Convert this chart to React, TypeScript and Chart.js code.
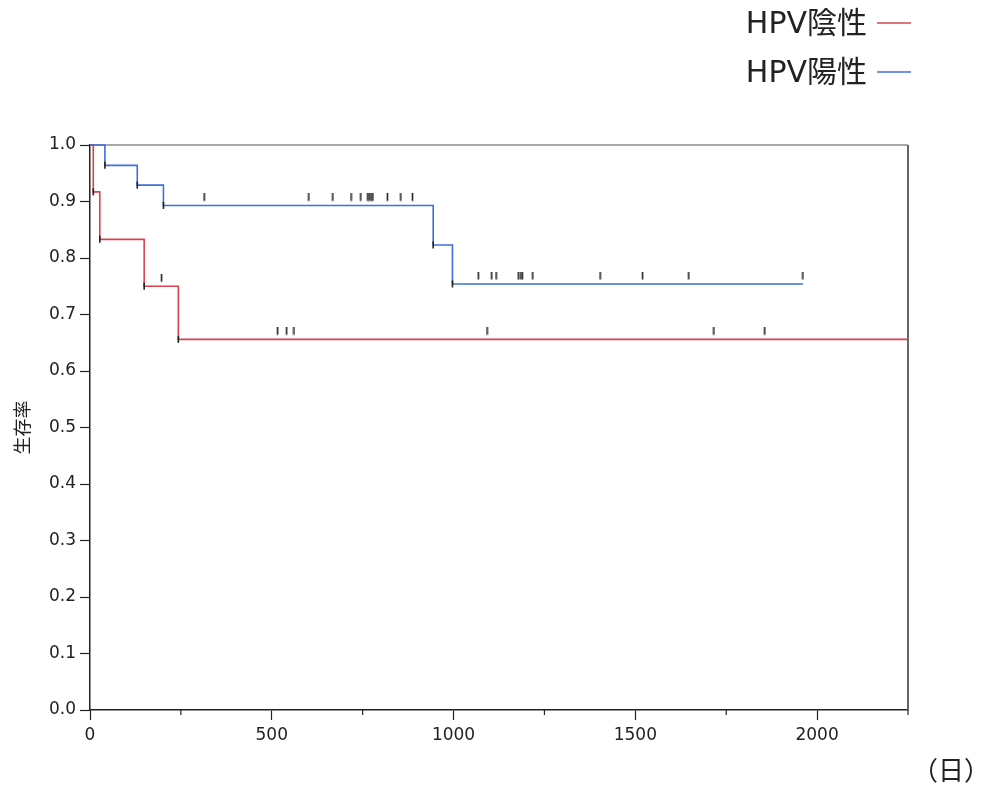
import React, { useEffect, useRef } from 'react';
import { Chart, registerables } from 'chart.js';

Chart.register(...registerables);

// ---- data ----
const seriesNames = ['HPV陰性', 'HPV陽性'];
const seriesColors = ['#d9434f', '#3f6fd8'];

const redEventDays = [9, 27, 149, 243];
const redSurvival = [0.917, 0.833, 0.75, 0.656];
const redCensorDays = [197, 516, 541, 561, 1092, 1716, 1856];
const redEndDay = 2250;

const blueEventDays = [41, 130, 202, 944, 997];
const blueSurvival = [0.964, 0.929, 0.893, 0.823, 0.754];
const blueCensorDays = [
  314, 602, 668, 718, 745, 764, 768, 773, 778, 818, 855, 887,
  1068, 1105, 1117, 1178, 1185, 1189, 1218, 1403, 1520, 1647, 1961,
];
const blueEndDay = 1961;

const xMax = 2250;
const xMajorTicks = [0, 500, 1000, 1500, 2000];
const xMinorTicks = [250, 750, 1250, 1750, 2250];
const yTitle = '生存率';
const xUnit = '（日）';

function levelAt(days: number[], surv: number[], t: number) {
  let s = 1;
  for (let i = 0; i < days.length; i++) if (days[i] <= t) s = surv[i];
  return s;
}
function stepPoints(days: number[], surv: number[], end: number) {
  const pts = [{ x: 0, y: 1 }];
  days.forEach((d, i) => pts.push({ x: d, y: surv[i] }));
  pts.push({ x: end, y: surv[surv.length - 1] });
  return pts;
}
function eventPoints(days: number[], surv: number[]) {
  return days.map((d, i) => ({ x: d, y: surv[i] }));
}
function censorPoints(censor: number[], days: number[], surv: number[]) {
  return censor.map((c) => ({ x: c, y: levelAt(days, surv, c) }));
}

const CJK = '"DejaVu Sans", "Noto Sans CJK JP", sans-serif';

const decor = {
  id: 'decor',
  beforeDatasetsDraw(chart: any) {
    const { ctx, chartArea: a, scales } = chart;
    ctx.save();
    ctx.strokeStyle = '#8c8c8c';
    ctx.lineWidth = 1.5;
    ctx.beginPath();
    ctx.moveTo(a.left, a.top);
    ctx.lineTo(a.right, a.top);
    ctx.stroke();
    ctx.strokeStyle = '#666';
    ctx.lineWidth = 2;
    ctx.beginPath();
    ctx.moveTo(a.right, a.top);
    ctx.lineTo(a.right, a.bottom);
    ctx.stroke();
    ctx.strokeStyle = '#222';
    ctx.lineWidth = 1.2;
    xMinorTicks.forEach((v) => {
      const px = scales.x.getPixelForValue(v);
      ctx.beginPath();
      ctx.moveTo(px, a.bottom);
      ctx.lineTo(px, a.bottom + 5);
      ctx.stroke();
    });
    ctx.restore();
  },
  afterDraw(chart: any) {
    const { ctx, chartArea: a, width, height } = chart;
    ctx.save();
    // legend
    ctx.font = `30px ${CJK}`;
    ctx.textAlign = 'right';
    ctx.textBaseline = 'middle';
    seriesNames.forEach((name, i) => {
      const y = 25 + i * 49;
      ctx.fillStyle = '#222';
      ctx.fillText(name, width - 118, y);
      ctx.strokeStyle = seriesColors[i];
      ctx.lineWidth = 1.6;
      ctx.beginPath();
      ctx.moveTo(width - 108, y - 2);
      ctx.lineTo(width - 74, y - 2);
      ctx.stroke();
    });
    // y title
    ctx.save();
    ctx.translate(22, (a.top + a.bottom) / 2);
    ctx.rotate(-Math.PI / 2);
    ctx.font = '18px "Noto Sans CJK JP", sans-serif';
    ctx.textAlign = 'center';
    ctx.textBaseline = 'middle';
    ctx.fillStyle = '#222';
    ctx.fillText(yTitle, 0, 0);
    ctx.restore();
    // unit
    ctx.font = '26px "Noto Sans CJK JP", sans-serif';
    ctx.textAlign = 'center';
    ctx.textBaseline = 'middle';
    ctx.fillStyle = '#222';
    ctx.fillText(xUnit, width - 34, height - 17);
    ctx.restore();
  },
};

export default function App() {
  const ref = useRef<HTMLCanvasElement>(null);
  useEffect(() => {
    if (!ref.current) return;
    const censorImg = document.createElement('canvas');
    censorImg.width = 3;
    censorImg.height = 24;
    const cc = censorImg.getContext('2d')!;
    cc.strokeStyle = '#222';
    cc.lineWidth = 1.6;
    cc.beginPath();
    cc.moveTo(1.5, 0);
    cc.lineTo(1.5, 7.5);
    cc.stroke();

    const markerCommon = {
      showLine: false,
      pointStyle: 'line',
      rotation: 90,
      pointRadius: 3.5,
      pointBorderWidth: 1.6,
      pointBorderColor: '#222',
      pointBackgroundColor: '#222',
      clip: false,
      order: 0,
    };
    const censorCommon = {
      showLine: false,
      pointStyle: censorImg,
      pointRadius: 5,
      clip: false,
      order: 0,
    };

    const chart = new Chart(ref.current, {
      type: 'scatter',
      data: {
        datasets: [
          {
            label: seriesNames[0],
            data: stepPoints(redEventDays, redSurvival, redEndDay),
            showLine: true,
            stepped: 'before',
            borderColor: seriesColors[0],
            borderWidth: 1.6,
            pointRadius: 0,
            clip: false,
            order: 2,
          },
          {
            label: seriesNames[1],
            data: stepPoints(blueEventDays, blueSurvival, blueEndDay),
            showLine: true,
            stepped: 'before',
            borderColor: seriesColors[1],
            borderWidth: 1.6,
            pointRadius: 0,
            clip: false,
            order: 1,
          },
          { label: 'e0', data: eventPoints(redEventDays, redSurvival), ...markerCommon },
          { label: 'e1', data: eventPoints(blueEventDays, blueSurvival), ...markerCommon },
          { label: 'c0', data: censorPoints(redCensorDays, redEventDays, redSurvival), ...censorCommon },
          { label: 'c1', data: censorPoints(blueCensorDays, blueEventDays, blueSurvival), ...censorCommon },
        ] as any,
      },
      options: {
        responsive: false,
        animation: false,
        events: [],
        layout: { padding: { left: 0, top: 145, right: 77, bottom: 27 } },
        plugins: { legend: { display: false }, tooltip: { enabled: false } },
        scales: {
          x: {
            type: 'linear',
            min: 0,
            max: xMax,
            afterFit: (s: any) => { s.height = 50; },
            afterBuildTicks: (s: any) => { s.ticks = xMajorTicks.map((v) => ({ value: v })); },
            border: { color: '#222', width: 1.5 },
            grid: { drawOnChartArea: false, drawTicks: true, tickLength: 10, tickColor: '#222', tickWidth: 1.2 },
            ticks: {
              padding: 5,
              color: '#222',
              font: { family: 'DejaVu Sans', size: 17 },
              maxRotation: 0,
              autoSkip: false,
              callback: (v: any) => String(v),
            },
          },
          y: {
            type: 'linear',
            min: 0,
            max: 1,
            afterFit: (s: any) => { s.width = 90; },
            border: { color: '#222', width: 1.5 },
            grid: { drawOnChartArea: false, drawTicks: true, tickLength: 10, tickColor: '#222', tickWidth: 1.2 },
            ticks: {
              stepSize: 0.1,
              padding: 4,
              color: '#222',
              font: { family: 'DejaVu Sans', size: 17 },
              callback: (v: any) => Number(v).toFixed(1),
            },
          },
        },
      },
      plugins: [decor],
    } as any);
    return () => chart.destroy();
  }, []);
  return (
    <div style={{ position: 'absolute', left: 0, top: 0 }}>
      <canvas ref={ref} width={985} height={787} style={{ display: 'block' }} />
    </div>
  );
}
